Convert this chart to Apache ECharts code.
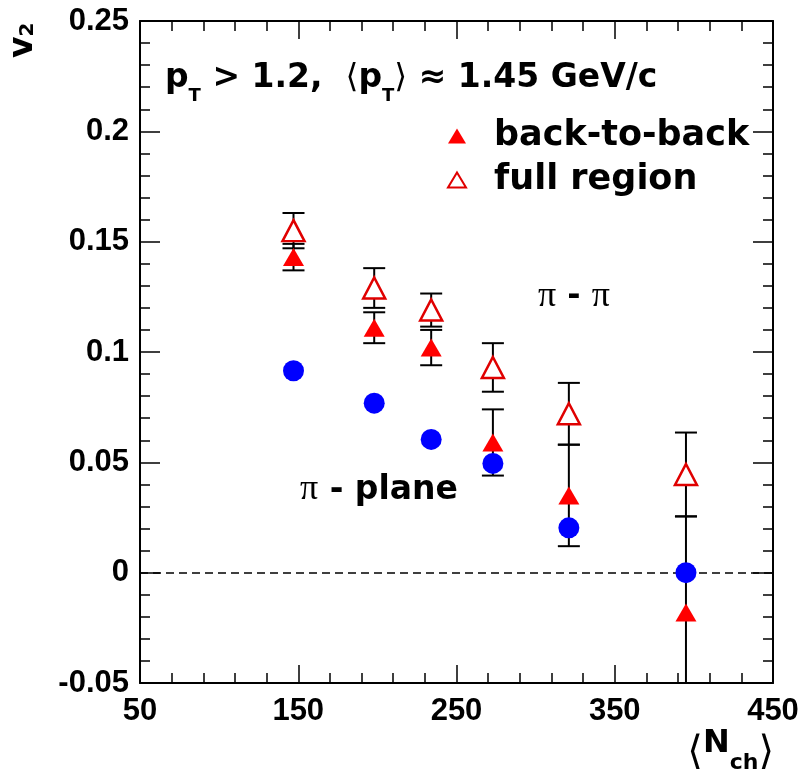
<!DOCTYPE html>
<html>
<head>
<meta charset="utf-8">
<script src="https://cdn.jsdelivr.net/npm/echarts@6/dist/echarts.min.js"></script>
<style>
  html, body { margin: 0; padding: 0; background: #fff; }
  #chart { width: 803px; height: 775px; }
</style>
</head>
<body>
<div id="chart"></div>
<script>
// Mean charged multiplicity of each centrality bin
const nch = [147, 198, 234, 273, 321, 395];

// v2, full region (open triangles) with statistical errors
const v2Full  = [0.155, 0.129, 0.119, 0.093, 0.072, 0.0445];
const errFull = [0.008, 0.009, 0.0075, 0.011, 0.014, 0.019];

// v2, back-to-back (filled triangles) with statistical errors
const v2Back  = [0.143, 0.111, 0.102, 0.059, 0.035, -0.018];
const errBack = [0.006, 0.007, 0.008, 0.015, 0.023, 0.0435];

// v2, pi - plane (blue circles)
const v2Plane = [0.0915, 0.0768, 0.0604, 0.0495, 0.0203, 0.0];

// Axis ranges and tick steps
const xRange = [50, 450];
const xStep = 100;
const yRange = [-0.05, 0.25];
const yStep = 0.05;

const FONT = "'DejaVu Sans', 'Liberation Sans', sans-serif";
const TICKFONT = "'Liberation Sans', Arial, sans-serif";
const SERIF = "'Liberation Serif', 'DejaVu Serif', serif";

const chart = echarts.init(document.getElementById('chart'), null, { renderer: 'canvas' });

function pairs(xs, ys) { return xs.map((x, i) => [x, ys[i]]); }
function triples(xs, ys, es) { return xs.map((x, i) => [x, ys[i], es[i]]); }

// Vertical error bar with end caps; parts outside the y range are cut off
function errorBar(params, api) {
  const x = api.value(0), v = api.value(1), e = api.value(2);
  const hi = Math.min(v + e, yRange[1]);
  const lo = Math.max(v - e, yRange[0]);
  const pHi = api.coord([x, hi]);
  const pLo = api.coord([x, lo]);
  const half = 11;
  const st = { stroke: '#000', lineWidth: 2 };
  const kids = [{ type: 'line', shape: { x1: pHi[0], y1: pHi[1], x2: pLo[0], y2: pLo[1] }, style: st }];
  if (v + e <= yRange[1]) kids.push({ type: 'line', shape: { x1: pHi[0] - half, y1: pHi[1], x2: pHi[0] + half, y2: pHi[1] }, style: st });
  if (v - e >= yRange[0]) kids.push({ type: 'line', shape: { x1: pLo[0] - half, y1: pLo[1], x2: pLo[0] + half, y2: pLo[1] }, style: st });
  return { type: 'group', children: kids };
}

const tickLine = { color: '#000', width: 1.5 };
const frameLine = { color: '#000', width: 2 };

function xAxisDef(pos, showLabel) {
  return {
    type: 'value', position: pos, min: xRange[0], max: xRange[1], interval: xStep,
    axisLine: { show: true, onZero: false, lineStyle: frameLine },
    axisTick: { show: true, inside: true, length: 18, lineStyle: tickLine },
    minorTick: { show: true, splitNumber: 5, length: 10, lineStyle: tickLine },
    splitLine: { show: false }, minorSplitLine: { show: false },
    axisLabel: { show: showLabel, margin: 13, fontFamily: TICKFONT, fontWeight: 'bold', fontSize: 31, color: '#000' }
  };
}
function yAxisDef(pos, showLabel) {
  return {
    type: 'value', position: pos, min: yRange[0], max: yRange[1], interval: yStep,
    axisLine: { show: true, onZero: false, lineStyle: frameLine },
    axisTick: { show: true, inside: true, length: 20, lineStyle: tickLine },
    minorTick: { show: true, splitNumber: 5, length: 10, lineStyle: tickLine },
    splitLine: { show: false }, minorSplitLine: { show: false },
    axisLabel: { show: showLabel, margin: 11, fontFamily: TICKFONT, fontWeight: 'bold', fontSize: 31, color: '#000' }
  };
}

const option = {
  backgroundColor: '#fff',
  animation: false,
  grid: { left: 140, right: 30, top: 21, bottom: 92, containLabel: false },
  xAxis: [xAxisDef('bottom', true), xAxisDef('top', false)],
  yAxis: [yAxisDef('left', true), yAxisDef('right', false)],
  legend: {
    data: ['back-to-back', 'full region'],
    orient: 'vertical',
    left: 447, top: 114, padding: 0,
    itemWidth: 18, itemHeight: 15, itemGap: 0,
    selectedMode: false,
    textStyle: { fontFamily: FONT, fontWeight: 'bold', fontSize: 35, lineHeight: 44, color: '#000', padding: [0, 0, 0, 23] }
  },
  series: [
    {
      name: 'err-full', type: 'custom', renderItem: errorBar, z: 2,
      data: triples(nch, v2Full, errFull), silent: true
    },
    {
      name: 'err-back', type: 'custom', renderItem: errorBar, z: 2,
      data: triples(nch, v2Back, errBack), silent: true
    },
    {
      name: 'back-to-back', type: 'scatter', z: 3,
      symbol: 'triangle', symbolSize: [21, 18],
      itemStyle: { color: '#ff0000', opacity: 1 },
      data: pairs(nch, v2Back)
    },
    {
      name: 'full region', type: 'scatter', z: 3,
      symbol: 'triangle', symbolSize: [22, 21],
      itemStyle: { color: '#ffffff', borderColor: '#e00000', borderWidth: 2.5, opacity: 1 },
      data: pairs(nch, v2Full)
    },
    {
      name: 'pi-plane', type: 'scatter', z: 4,
      symbol: 'circle', symbolSize: 21,
      itemStyle: { color: '#0000ff', opacity: 1 },
      data: pairs(nch, v2Plane),
      markLine: {
        silent: true, symbol: 'none', label: { show: false }, z: 1,
        lineStyle: { color: '#000', width: 1.5, type: [8, 5] },
        data: [{ yAxis: 0 }]
      }
    }
  ],
  graphic: [
    {
      type: 'text', x: 165, y: 52, z: 10,
      style: {
        text: '{b|p}{s|T}{b| > 1.2,  }{a|\u27e8}{b|p}{s|T}{a|\u27e9}{b| \u2248 1.45 GeV/c}',
        verticalAlign: 'top',
        rich: {
          b: { fontFamily: FONT, fontWeight: 'bold', fontSize: 33, lineHeight: 53, verticalAlign: 'middle', fill: '#000' },
          s: { fontFamily: FONT, fontWeight: 'bold', fontSize: 18, verticalAlign: 'bottom', fill: '#000' },
          a: { fontFamily: FONT, fontWeight: 'normal', fontSize: 33, lineHeight: 53, verticalAlign: 'middle', fill: '#000' }
        }
      }
    },
    {
      type: 'text', x: 538, y: 297, z: 10,
      style: {
        text: '{p|\u03c0}{d| - }{p|\u03c0}',
        verticalAlign: 'middle',
        rich: {
          p: { fontFamily: SERIF, fontSize: 36, fill: '#000' },
          d: { fontFamily: FONT, fontWeight: 'bold', fontSize: 32, fill: '#000' }
        }
      }
    },
    {
      type: 'text', x: 300, y: 490, z: 10,
      style: {
        text: '{p|\u03c0}{d| - plane}',
        verticalAlign: 'middle',
        rich: {
          p: { fontFamily: SERIF, fontSize: 36, fill: '#000' },
          d: { fontFamily: FONT, fontWeight: 'bold', fontSize: 33, fill: '#000' }
        }
      }
    },
    {
      // y-axis title, reading upwards
      type: 'text', x: 8, y: 58, rotation: Math.PI / 2, z: 10,
      style: {
        text: '{b|v}{s|2}',
        verticalAlign: 'top',
        rich: {
          b: { fontFamily: FONT, fontWeight: 'bold', fontSize: 33, lineHeight: 30, verticalAlign: 'middle', fill: '#000' },
          s: { fontFamily: FONT, fontWeight: 'bold', fontSize: 20, verticalAlign: 'bottom', fill: '#000' }
        }
      }
    },
    {
      // x-axis title
      type: 'text', x: 774, y: 714, z: 10,
      style: {
        text: '{a|\u27e8}{b|N}{s|ch}{a|\u27e9}',
        align: 'right', verticalAlign: 'top',
        rich: {
          a: { fontFamily: FONT, fontWeight: 'normal', fontSize: 40, verticalAlign: 'bottom', fill: '#000' },
          b: { fontFamily: FONT, fontWeight: 'bold', fontSize: 32, lineHeight: 60, verticalAlign: 'middle', fill: '#000' },
          s: { fontFamily: FONT, fontWeight: 'bold', fontSize: 22, verticalAlign: 'bottom', fill: '#000' }
        }
      }
    }
  ]
};

chart.setOption(option);
</script>
</body>
</html>
